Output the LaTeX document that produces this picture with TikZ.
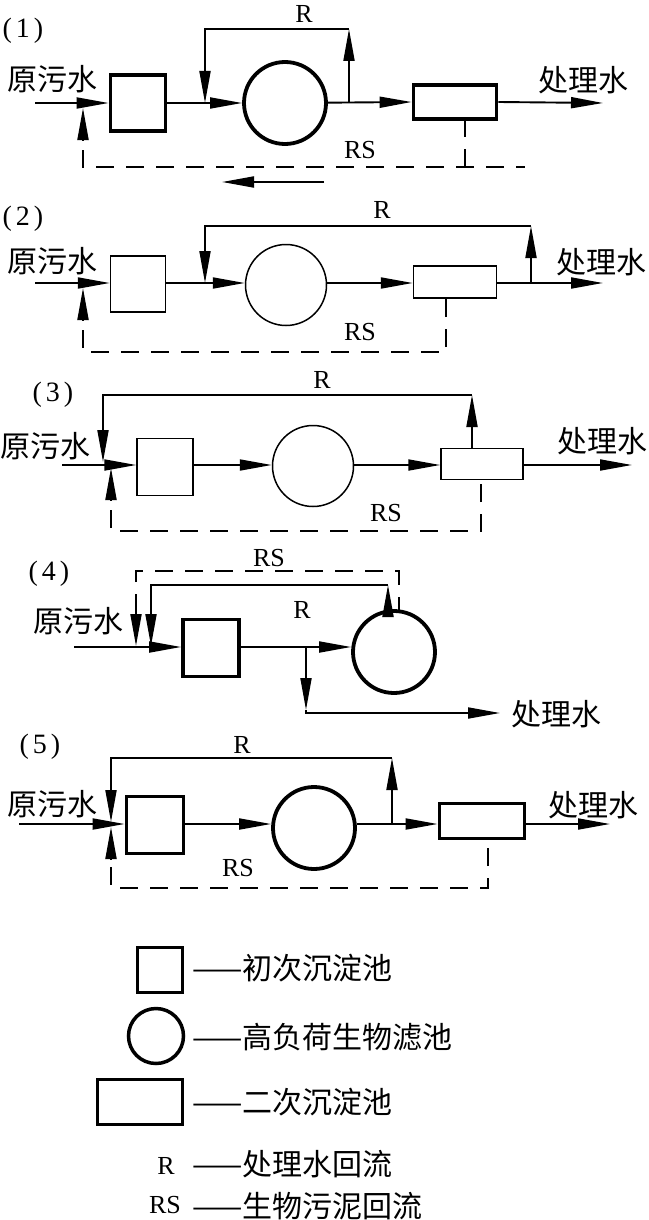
\documentclass[tikz,border=0pt]{standalone}
\usepackage{fontspec}
\setmainfont{Liberation Serif}
\newfontfamily\cjk{Noto Sans CJK SC}
\usetikzlibrary{arrows.meta}
\tikzset{
  ln/.style={line width=1.9pt},
  thickbox/.style={draw, line width=3.8pt, inner sep=0pt},
  thinbox/.style={draw, line width=1.5pt, inner sep=0pt},
  dsh/.style={line width=1.8pt, dash pattern=on 18pt off 12pt},
  ar/.style={ln, -{Triangle[length=32pt,width=11pt]}},
  cjkt/.style={font=\fontsize{30}{30}\selectfont\cjk, inner sep=0pt},
  lat/.style={font=\fontsize{26}{26}\selectfont, inner sep=0pt},
  num/.style={font=\fontsize{28}{28}\selectfont, inner sep=0pt},
}
\newcommand{\lbl}[1]{(\kern4pt#1\kern4pt)}
\begin{document}
\begin{tikzpicture}[x=1pt,y=-1pt]
\fill[white] (0,0) rectangle (648,1220);
\useasboundingbox (0,0) rectangle (648,1220);

% ---------------- (1)
\node[num] (n1) at (23,31) {\lbl{1}};
\node[cjkt] (src1) at (52,79) {原污水};
\node[cjkt] (dst1) at (583,80) {处理水};
\node[lat] (R1) at (304,14) {R};
\node[lat] (RS1) at (360,150) {RS};
\node[thickbox, minimum width=55pt, minimum height=56pt] (b1) at (138,103) {};
\node[thickbox, circle, minimum size=82pt] (c1) at (285,103) {};
\node[thickbox, minimum width=83pt, minimum height=34pt] (r1) at (455,102) {};
\coordinate (in1) at (35,103);
\coordinate (out1) at (603,103);
\draw[ar] (in1) -- (b1);
\draw[ar] (b1) -- (c1);
\draw[ar] (c1) -- (r1 -| r1.west);
\draw[ar] (r1 -| r1.east) -- (out1);
\coordinate (j1) at (349,103);
\coordinate (t1r) at (349,29);
\coordinate (t1l) at (205,29);
\coordinate (k1) at (205,103);
\draw[ar] (j1) -- (t1r);
\draw[ar] (t1r) -- (t1l) -- (k1);
\coordinate (d1top) at (465,119);
\coordinate (d1b) at (465,167);
\coordinate (d1r) at (525,167);
\coordinate (d1l) at (83,167);
\coordinate (d1u) at (83,150);
\draw[dsh] (d1u) -- (d1l) -- (d1r);
\draw[dsh] (d1top) -- (d1b);
\coordinate (a1b) at (83,140);
\coordinate (a1t) at (83,108);
\draw[ar] (a1b) -- (a1t);
\coordinate (la1) at (324,182);
\coordinate (la2) at (222,182);
\draw[ar] (la1) -- (la2);

% ---------------- (2)
\node[num] (n2) at (23,219) {\lbl{2}};
\node[cjkt] (src2) at (52,261) {原污水};
\node[cjkt] (dst2) at (601,262) {处理水};
\node[lat] (R2) at (382,210) {R};
\node[lat] (RS2) at (360,332) {RS};
\node[thinbox, minimum width=55pt, minimum height=56pt] (b2) at (138,284) {};
\node[thinbox, circle, minimum size=81pt] (c2) at (286,285) {};
\node[thinbox, minimum width=83pt, minimum height=32pt] (r2) at (455,282) {};
\coordinate (in2) at (35,283);
\coordinate (out2) at (603,283);
\draw[ar] (in2) -- (in2 -| b2.west);
\draw[ar] (in2 -| b2.east) -- (in2 -| c2.west);
\draw[ar] (in2 -| c2.east) -- (in2 -| r2.west);
\draw[ar] (in2 -| r2.east) -- (out2);
\coordinate (j2) at (531,283);
\coordinate (t2r) at (531,226);
\coordinate (t2l) at (205,226);
\coordinate (k2) at (205,283);
\draw[ar] (j2) -- (t2r);
\draw[ar] (t2r) -- (t2l) -- (k2);
\coordinate (d2top) at (446,298);
\coordinate (d2b) at (446,352);
\coordinate (d2l) at (83,352);
\coordinate (d2u) at (83,330);
\draw[dsh] (d2u) -- (d2l) -- (d2b) -- (d2top);
\coordinate (a2b) at (83,320);
\coordinate (a2t) at (83,288);
\draw[ar] (a2b) -- (a2t);

% ---------------- (3)
\node[num] (n3) at (53,395) {\lbl{3}};
\node[cjkt] (src3) at (45,446) {原污水};
\node[cjkt] (dst3) at (602,441) {处理水};
\node[lat] (R3) at (322,380) {R};
\node[lat] (RS3) at (386,513) {RS};
\node[thinbox, minimum width=56pt, minimum height=57pt] (b3) at (165,467) {};
\node[thinbox, circle, minimum size=81pt] (c3) at (313,466) {};
\node[thinbox, minimum width=82pt, minimum height=31pt] (r3) at (482,464) {};
\coordinate (in3) at (62,465);
\coordinate (out3) at (632,465);
\draw[ar] (in3) -- (in3 -| b3.west);
\draw[ar] (in3 -| b3.east) -- (in3 -| c3.west);
\draw[ar] (in3 -| c3.east) -- (in3 -| r3.west);
\draw[ar] (in3 -| r3.east) -- (out3);
\coordinate (j3) at (472,448.5);
\coordinate (t3r) at (472,395);
\coordinate (t3l) at (103,395);
\coordinate (k3) at (103,462);
\draw[ar] (j3) -- (t3r);
\draw[ar] (t3r) -- (t3l) -- (k3);
\coordinate (d3top) at (481,479.5);
\coordinate (d3b) at (481,531);
\coordinate (d3l) at (111,531);
\coordinate (d3u) at (111,510);
\draw[dsh] (d3u) -- (d3l) -- (d3b) -- (d3top);
\coordinate (a3b) at (111,500);
\coordinate (a3t) at (111,468);
\draw[ar] (a3b) -- (a3t);

% ---------------- (4)
\node[num] (n4) at (49,574) {\lbl{4}};
\node[cjkt] (src4) at (78,621) {原污水};
\node[cjkt] (dst4) at (556,714) {处理水};
\node[lat] (R4) at (302,610) {R};
\node[lat] (RS4) at (269,558) {RS};
\node[thickbox, minimum width=56pt, minimum height=57pt] (b4) at (211,648) {};
\node[thickbox, circle, minimum size=82pt] (c4) at (394,652) {};
\coordinate (in4) at (74,647);
\draw[ar] (in4) -- (in4 -| b4.west);
\draw[ar] (in4 -| b4.east) -- (in4 -| c4.west);
\coordinate (j4d) at (306,647);
\coordinate (m4) at (306,710);
\coordinate (j4e) at (306,713);
\coordinate (out4) at (500,713);
\draw[ar] (j4d) -- (m4);
\draw[ar] (m4) -- (j4e) -- (out4);
\coordinate (j4) at (388,611);
\coordinate (t4r) at (388,585);
\coordinate (t4l) at (151,585);
\coordinate (k4) at (151,646);
\draw[ar] (j4) -- (t4r);
\draw[ar] (t4r) -- (t4l) -- (k4);
\coordinate (s4) at (399,611);
\coordinate (s4a) at (399,571);
\coordinate (s4b) at (136,571);
\coordinate (s4c) at (136,612);
\coordinate (s4d) at (136,646);
\draw[dsh] (s4c) -- (s4b) -- (s4a) -- (s4);
\draw[ar] (s4c) -- (s4d);

% ---------------- (5)
\node[num] (n5) at (40,747) {\lbl{5}};
\node[cjkt] (src5) at (52,804) {原污水};
\node[cjkt] (dst5) at (593,805) {处理水};
\node[lat] (R5) at (242,745) {R};
\node[lat] (RS5) at (238,868) {RS};
\node[thickbox, minimum width=57pt, minimum height=57pt] (b5) at (155,825) {};
\node[thickbox, circle, minimum size=82pt] (c5) at (314,828) {};
\node[thickbox, minimum width=85pt, minimum height=35pt] (r5) at (482,821) {};
\coordinate (in5) at (19,824);
\coordinate (out5) at (610,824);
\draw[ar] (in5) -- (in5 -| b5.west);
\draw[ar] (in5 -| b5.east) -- (in5 -| c5.west);
\draw[ar] (in5 -| c5.east) -- (in5 -| r5.west);
\draw[ar] (in5 -| r5.east) -- (out5);
\coordinate (j5) at (392,824);
\coordinate (t5r) at (392,758);
\coordinate (t5l) at (111,758);
\coordinate (k5) at (111,822);
\draw[ar] (j5) -- (t5r);
\draw[ar] (t5r) -- (t5l) -- (k5);
\coordinate (d5top) at (488,838.5);
\coordinate (d5b) at (488,888);
\coordinate (d5l) at (111,888);
\coordinate (d5u) at (111,867);
\draw[dsh] (d5u) -- (d5l) -- (d5b) -- (d5top);
\coordinate (a5b) at (111,859);
\coordinate (a5t) at (111,827);
\draw[ar] (a5b) -- (a5t);

% ---------------- legend
\node[thickbox, line width=3.5pt, minimum width=45pt, minimum height=45pt] (Lsq) at (160,970) {};
\node[thickbox, line width=3.5pt, circle, minimum size=55pt] (Lci) at (156,1036) {};
\node[thickbox, line width=3.5pt, minimum width=85pt, minimum height=45pt] (Lre) at (140,1102) {};
\node[cjkt, anchor=west] (T1) at (192,968) {——初次沉淀池};
\node[cjkt, anchor=west] (T2) at (192,1037) {——高负荷生物滤池};
\node[cjkt, anchor=west] (T3) at (192,1102) {——二次沉淀池};
\node[cjkt, anchor=west] (T4) at (192,1164) {——处理水回流};
\node[cjkt, anchor=west] (T5) at (192,1206) {——生物污泥回流};
\node[lat] (LR) at (166,1166) {R};
\node[lat] (LRS) at (165,1205) {RS};
\end{tikzpicture}
\end{document}
